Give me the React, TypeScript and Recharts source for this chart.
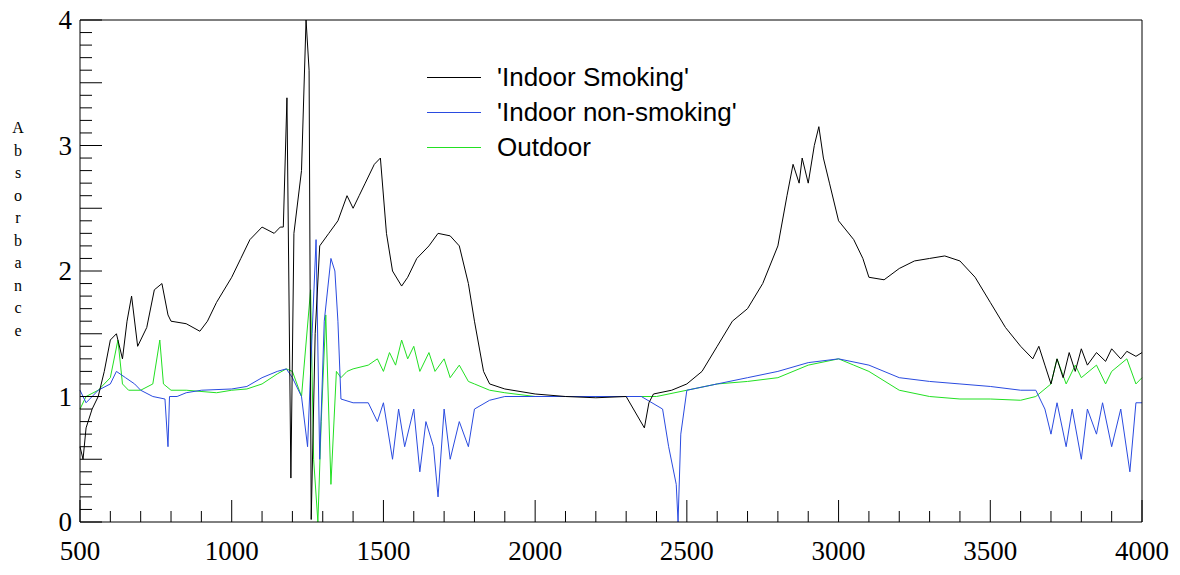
import { LineChart, Line, XAxis, YAxis } from 'recharts';

const smokingX = [500, 510, 520, 540, 560, 580, 600, 620, 640, 655, 670, 690, 720, 745, 770, 790, 800, 850, 895, 920, 950, 1000, 1030, 1060, 1100, 1140, 1160, 1170, 1182, 1195, 1205, 1230, 1245, 1255, 1262, 1275, 1290, 1320, 1350, 1380, 1400, 1420, 1440, 1470, 1490, 1510, 1530, 1560, 1580, 1610, 1650, 1680, 1720, 1750, 1780, 1800, 1830, 1850, 1900, 2000, 2100, 2200, 2300, 2360, 2375, 2390, 2450, 2500, 2550, 2600, 2650, 2700, 2750, 2800, 2830, 2850, 2870, 2880, 2900, 2920, 2935, 2950, 2970, 3000, 3050, 3080, 3100, 3150, 3200, 3250, 3300, 3350, 3400, 3450, 3500, 3550, 3600, 3640, 3660, 3680, 3700, 3720, 3740, 3760, 3780, 3800, 3820, 3850, 3880, 3900, 3930, 3950, 3980, 4000];
const smokingY = [0.6, 0.5, 0.75, 0.9, 1.0, 1.2, 1.45, 1.5, 1.3, 1.6, 1.8, 1.4, 1.55, 1.85, 1.9, 1.65, 1.6, 1.58, 1.52, 1.6, 1.75, 1.95, 2.1, 2.25, 2.35, 2.3, 2.35, 2.35, 3.38, 0.35, 2.3, 2.8, 4.0, 3.6, 0.02, 1.5, 2.2, 2.3, 2.4, 2.6, 2.5, 2.6, 2.7, 2.85, 2.9, 2.3, 2.0, 1.88, 1.95, 2.1, 2.2, 2.3, 2.28, 2.2, 1.9, 1.6, 1.2, 1.1, 1.06, 1.02, 1.0, 0.99, 1.0, 0.75, 0.95, 1.02, 1.05, 1.1, 1.2, 1.4, 1.6, 1.7, 1.9, 2.2, 2.6, 2.85, 2.7, 2.9, 2.7, 3.0, 3.15, 2.9, 2.7, 2.4, 2.25, 2.1, 1.95, 1.93, 2.02, 2.08, 2.1, 2.12, 2.08, 1.95, 1.75, 1.55, 1.4, 1.3, 1.4, 1.25, 1.1, 1.3, 1.15, 1.35, 1.2, 1.38, 1.25, 1.35, 1.28, 1.38, 1.3, 1.36, 1.32, 1.35, 1.3];

const nonSmokingX = [500, 520, 540, 560, 600, 620, 650, 680, 700, 740, 780, 790, 795, 820, 850, 900, 1000, 1050, 1100, 1150, 1180, 1200, 1230, 1250, 1265, 1278, 1290, 1305, 1327, 1340, 1350, 1360, 1400, 1450, 1480, 1500, 1530, 1550, 1570, 1600, 1620, 1640, 1665, 1680, 1700, 1720, 1750, 1780, 1800, 1850, 1900, 2000, 2200, 2350, 2420, 2440, 2465, 2471, 2480, 2500, 2600, 2700, 2800, 2900, 3000, 3100, 3200, 3300, 3400, 3500, 3600, 3650, 3680, 3700, 3720, 3750, 3770, 3800, 3820, 3850, 3870, 3900, 3930, 3960, 3980, 4000];
const nonSmokingY = [1.05, 0.95, 1.0, 1.05, 1.1, 1.2, 1.15, 1.1, 1.05, 1.0, 0.98, 0.6, 1.0, 1.0, 1.03, 1.05, 1.06, 1.08, 1.15, 1.2, 1.22, 1.15, 1.0, 0.6, 1.5, 2.25, 0.5, 1.6, 2.1, 2.0, 1.6, 0.98, 0.95, 0.95, 0.8, 0.95, 0.5, 0.9, 0.6, 0.9, 0.4, 0.8, 0.6, 0.2, 0.9, 0.5, 0.8, 0.6, 0.9, 0.97, 1.0, 1.0, 1.0, 1.0, 0.9, 0.6, 0.3, 0.0, 0.7, 1.05, 1.1, 1.15, 1.2, 1.27, 1.3, 1.25, 1.15, 1.12, 1.1, 1.08, 1.05, 1.05, 0.9, 0.7, 0.95, 0.6, 0.9, 0.5, 0.9, 0.7, 0.95, 0.6, 0.9, 0.4, 0.95, 0.95];

const outdoorX = [500, 520, 560, 600, 625, 640, 660, 700, 740, 763, 775, 800, 850, 950, 1000, 1050, 1100, 1150, 1180, 1200, 1230, 1260, 1270, 1284, 1295, 1310, 1327, 1345, 1360, 1380, 1400, 1450, 1480, 1500, 1520, 1540, 1560, 1580, 1600, 1620, 1650, 1670, 1700, 1720, 1750, 1780, 1800, 1850, 1900, 2000, 2100, 2200, 2300, 2400, 2500, 2600, 2700, 2800, 2900, 3000, 3050, 3100, 3200, 3300, 3400, 3500, 3600, 3650, 3700, 3720, 3750, 3780, 3800, 3850, 3880, 3900, 3950, 3980, 4000];
const outdoorY = [0.9, 1.0, 1.05, 1.15, 1.45, 1.1, 1.05, 1.05, 1.1, 1.45, 1.1, 1.05, 1.05, 1.03, 1.05, 1.06, 1.1, 1.18, 1.22, 1.2, 1.0, 1.85, 0.5, 0.0, 0.8, 1.65, 0.3, 1.2, 1.15, 1.2, 1.22, 1.25, 1.3, 1.2, 1.35, 1.25, 1.45, 1.3, 1.4, 1.2, 1.35, 1.2, 1.3, 1.15, 1.25, 1.12, 1.1, 1.05, 1.03, 1.0, 1.0, 1.0, 1.0, 1.0, 1.05, 1.1, 1.12, 1.15, 1.25, 1.3, 1.25, 1.2, 1.05, 1.0, 0.98, 0.98, 0.97, 1.0, 1.1, 1.3, 1.1, 1.25, 1.15, 1.25, 1.1, 1.2, 1.3, 1.1, 1.15];

const xTicks = Array.from({ length: 36 }, (_, i) => 500 + i * 100);
const yTicks = Array.from({ length: 41 }, (_, i) => i / 10);
const yLabel = 'Absorbance';

const zip = (xs: number[], ys: number[]) => xs.map((x, i) => ({ x, y: ys[i] }));
const smoking = zip(smokingX, smokingY);
const nonSmoking = zip(nonSmokingX, nonSmokingY);
const outdoor = zip(outdoorX, outdoorY);

const serif = '"Liberation Serif", "DejaVu Serif", serif';
const sans = '"Liberation Sans", Arial, sans-serif';

const xTick = (dir: number, label: boolean) => (props: any) => {
  const { x, y, payload } = props;
  const major = payload.value % 500 === 0;
  return (
    <g>
      <line x1={x} x2={x} y1={y} y2={y + dir * (major ? 22 : 11)} stroke="#000" />
      {label && major && (
        <text x={x} y={y + 38} textAnchor="middle" fontFamily={serif} fontSize={27} fill="#000">
          {payload.value}
        </text>
      )}
    </g>
  );
};

const yTick = (dir: number, label: boolean) => (props: any) => {
  const { x, y, payload } = props;
  const i = Math.round(payload.value * 10);
  const major = i % 5 === 0;
  return (
    <g>
      <line x1={x} x2={x + dir * (major ? 22 : 12)} y1={y} y2={y} stroke="#000" />
      {label && i % 10 === 0 && (
        <text x={x - 8} y={y + 9} textAnchor="end" fontFamily={serif} fontSize={27} fill="#000">
          {i / 10}
        </text>
      )}
    </g>
  );
};

const legendItems = [
  { name: "'Indoor Smoking'", color: '#000000' },
  { name: "'Indoor non-smoking'", color: '#2a4be0' },
  { name: 'Outdoor', color: '#22e022' },
];

const axisProps = { type: 'number' as const, tickSize: 0, tickMargin: 0, tickLine: false, axisLine: { stroke: '#000' }, interval: 0 as const };

export default function App() {
  return (
    <div style={{ position: 'absolute', left: 0, top: 0, width: 1180, height: 575, background: '#fff' }}>
      <LineChart width={1180} height={575} margin={{ top: 19, left: 79, right: 37, bottom: 52 }}>
        <XAxis {...axisProps} dataKey="x" domain={[500, 4000]} ticks={xTicks} height={1} tick={xTick(-1, true)} xAxisId="b" />
        <XAxis {...axisProps} dataKey="x" domain={[500, 4000]} ticks={xTicks} height={1} tick={xTick(1, false)} orientation="top" xAxisId="t" />
        <YAxis {...axisProps} domain={[0, 4]} ticks={yTicks} width={1} tick={yTick(1, true)} yAxisId="l" />
        <YAxis {...axisProps} domain={[0, 4]} ticks={yTicks} width={1} tick={yTick(-1, false)} orientation="right" yAxisId="r" />
        <Line data={outdoor} dataKey="y" xAxisId="b" yAxisId="l" type="linear" stroke="#22e022" strokeWidth={1} dot={false} isAnimationActive={false} />
        <Line data={nonSmoking} dataKey="y" xAxisId="b" yAxisId="l" type="linear" stroke="#2a4be0" strokeWidth={1} dot={false} isAnimationActive={false} />
        <Line data={smoking} dataKey="y" xAxisId="b" yAxisId="l" type="linear" stroke="#000" strokeWidth={1} dot={false} isAnimationActive={false} />
      </LineChart>
      <div style={{ position: 'absolute', left: 12, top: 117, width: 12, fontFamily: serif, fontSize: 16, lineHeight: '22.5px', textAlign: 'center' }}>
        {yLabel.split('').map((c, i) => <div key={i}>{c}</div>)}
      </div>
      <div style={{ position: 'absolute', left: 427, top: 60, fontFamily: sans, fontSize: 26 }}>
        {legendItems.map((it) => (
          <div key={it.name} style={{ display: 'flex', alignItems: 'center', height: 35 }}>
            <div style={{ width: 54, height: 0, borderTop: `1px solid ${it.color}`, marginRight: 16 }} />
            <span>{it.name}</span>
          </div>
        ))}
      </div>
    </div>
  );
}
